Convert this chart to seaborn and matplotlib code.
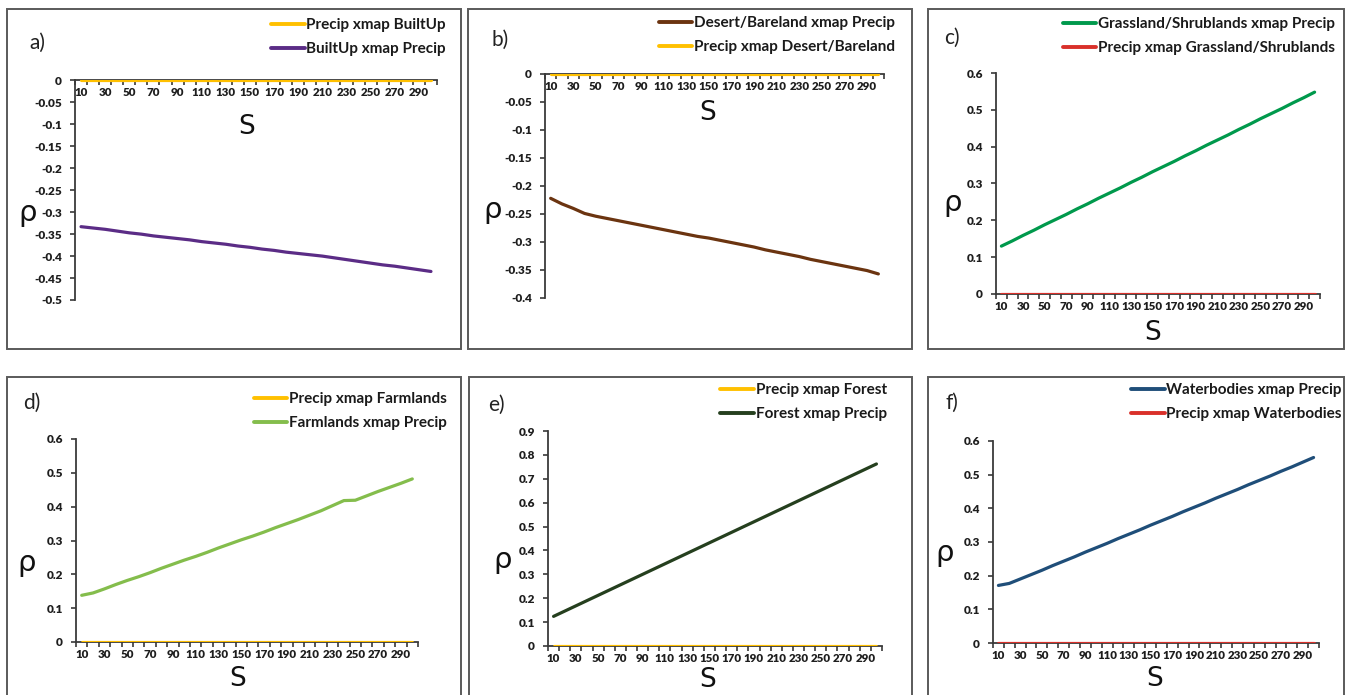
import numpy as np
import pandas as pd
import matplotlib
matplotlib.use("Agg")
import matplotlib.pyplot as plt
import seaborn as sns
from matplotlib.ticker import FixedLocator, FuncFormatter, MultipleLocator
from matplotlib.patches import Rectangle

# ---------------- data ----------------
S = [10, 20, 30, 40, 50, 60, 70, 80, 90, 100, 110, 120, 130, 140, 150,
     160, 170, 180, 190, 200, 210, 220, 230, 240, 250, 260, 270, 280, 290, 300]
s_tick_labels = [10, 30, 50, 70, 90, 110, 130, 150, 170, 190, 210, 230, 250, 270, 290]

builtup_xmap_precip = [-0.333, -0.336, -0.339, -0.343, -0.347, -0.350, -0.354, -0.357, -0.360, -0.363,
                       -0.367, -0.370, -0.373, -0.377, -0.380, -0.384, -0.387, -0.391, -0.394, -0.397,
                       -0.400, -0.404, -0.408, -0.412, -0.416, -0.420, -0.423, -0.427, -0.431, -0.435]
precip_xmap_builtup = [0, 0, 0, 0, 0, 0, 0, 0, 0, 0, 0, 0, 0, 0, 0,
                       0, 0, 0, 0, 0, 0, 0, 0, 0, 0, 0, 0, 0, 0, 0]

desert_xmap_precip = [-0.222, -0.232, -0.240, -0.249, -0.254, -0.258, -0.262, -0.266, -0.270, -0.274,
                      -0.278, -0.282, -0.286, -0.290, -0.293, -0.297, -0.301, -0.305, -0.309, -0.314,
                      -0.318, -0.322, -0.326, -0.331, -0.335, -0.339, -0.343, -0.347, -0.351, -0.357]
precip_xmap_desert = [0, 0, 0, 0, 0, 0, 0, 0, 0, 0, 0, 0, 0, 0, 0,
                      0, 0, 0, 0, 0, 0, 0, 0, 0, 0, 0, 0, 0, 0, 0]

grass_xmap_precip = [0.130, 0.144, 0.159, 0.173, 0.188, 0.202, 0.216, 0.231, 0.245, 0.260,
                     0.274, 0.288, 0.303, 0.317, 0.332, 0.346, 0.360, 0.375, 0.389, 0.404,
                     0.418, 0.432, 0.447, 0.461, 0.476, 0.490, 0.504, 0.519, 0.533, 0.548]
precip_xmap_grass = [0, 0, 0, 0, 0, 0, 0, 0, 0, 0, 0, 0, 0, 0, 0,
                     0, 0, 0, 0, 0, 0, 0, 0, 0, 0, 0, 0, 0, 0, 0]

farm_xmap_precip = [0.138, 0.145, 0.157, 0.170, 0.182, 0.193, 0.205, 0.218, 0.230, 0.242,
                    0.253, 0.265, 0.278, 0.290, 0.302, 0.313, 0.325, 0.338, 0.350, 0.362,
                    0.375, 0.388, 0.403, 0.418, 0.419, 0.432, 0.445, 0.457, 0.469, 0.482]
precip_xmap_farm = [0, 0, 0, 0, 0, 0, 0, 0, 0, 0, 0, 0, 0, 0, 0,
                    0, 0, 0, 0, 0, 0, 0, 0, 0, 0, 0, 0, 0, 0, 0]

forest_xmap_precip = [0.124, 0.146, 0.168, 0.190, 0.212, 0.234, 0.256, 0.278, 0.300, 0.322,
                      0.344, 0.366, 0.388, 0.410, 0.432, 0.454, 0.476, 0.498, 0.520, 0.542,
                      0.564, 0.586, 0.608, 0.630, 0.652, 0.674, 0.696, 0.718, 0.740, 0.762]
precip_xmap_forest = [0, 0, 0, 0, 0, 0, 0, 0, 0, 0, 0, 0, 0, 0, 0,
                      0, 0, 0, 0, 0, 0, 0, 0, 0, 0, 0, 0, 0, 0, 0]

water_xmap_precip = [0.171, 0.177, 0.190, 0.203, 0.216, 0.230, 0.243, 0.256, 0.270, 0.283,
                     0.296, 0.310, 0.323, 0.336, 0.350, 0.363, 0.376, 0.390, 0.403, 0.416,
                     0.430, 0.443, 0.456, 0.470, 0.483, 0.496, 0.510, 0.523, 0.537, 0.551]
precip_xmap_water = [0, 0, 0, 0, 0, 0, 0, 0, 0, 0, 0, 0, 0, 0, 0,
                     0, 0, 0, 0, 0, 0, 0, 0, 0, 0, 0, 0, 0, 0, 0]

# ---------------- style ----------------
sns.set_theme(style="white")
plt.rcParams['font.family'] = ['Lato', 'DejaVu Sans']
plt.rcParams['font.weight'] = 'bold'

W, H = 1347, 695
fig = plt.figure(figsize=(W / 100, H / 100), dpi=100)
fig.patch.set_facecolor("white")

YELLOW = "#FFC000"
RED = "#D9302A"

def rect(x0, x1, ytop, ybot):
    return [x0 / W, 1 - ybot / H, (x1 - x0) / W, (ybot - ytop) / H]

def fx(x):
    return x / W

def fy(y):
    return 1 - y / H

panels = [
    dict(tag="a)", frame=(7, 9, 461, 349), ax=rect(75, 437, 80.5, 300), ylim=(-0.5, 0), ystep=0.05,
         series=[("Precip xmap BuiltUp", precip_xmap_builtup, YELLOW),
                 ("BuiltUp xmap Precip", builtup_xmap_precip, "#5B2C86")],
         tagpos=(37, 43), rho=(28, 213), spos=(247, 127), leg=(446, 26)),
    dict(tag="b)", frame=(468, 9, 912, 349), ax=rect(545, 884, 74, 298), ylim=(-0.4, 0), ystep=0.05,
         series=[("Desert/Bareland xmap Precip", desert_xmap_precip, "#6B3410"),
                 ("Precip xmap Desert/Bareland", precip_xmap_desert, YELLOW)],
         tagpos=(500, 40), rho=(493, 210), spos=(708, 113), leg=(895, 24)),
    dict(tag="c)", frame=(928, 9, 1344, 349), ax=rect(996, 1320, 73, 294), ylim=(0, 0.6), ystep=0.1,
         series=[("Grassland/Shrublands xmap Precip", grass_xmap_precip, "#00994C"),
                 ("Precip xmap Grassland/Shrublands", precip_xmap_grass, RED)],
         tagpos=(952, 38), rho=(953, 203), spos=(1153, 333), leg=(1335, 25)),
    dict(tag="d)", frame=(7, 377, 461, 705), ax=rect(76, 418, 439, 642), ylim=(0, 0.6), ystep=0.1,
         series=[("Precip xmap Farmlands", precip_xmap_farm, YELLOW),
                 ("Farmlands xmap Precip", farm_xmap_precip, "#84BD4C")],
         tagpos=(32, 403), rho=(27, 563), spos=(238, 679), leg=(447, 400)),
    dict(tag="e)", frame=(469, 377, 912, 705), ax=rect(548, 882, 431, 646), ylim=(0, 0.9), ystep=0.1,
         series=[("Precip xmap Forest", precip_xmap_forest, YELLOW),
                 ("Forest xmap Precip", forest_xmap_precip, "#253F1E")],
         tagpos=(496, 405), rho=(503, 560), spos=(708, 680), leg=(887, 391)),
    dict(tag="f)", frame=(928, 377, 1344, 705), ax=rect(993, 1319, 441, 643), ylim=(0, 0.6), ystep=0.1,
         series=[("Waterbodies xmap Precip", water_xmap_precip, "#1F4E79"),
                 ("Precip xmap Waterbodies", precip_xmap_water, RED)],
         tagpos=(952, 403), rho=(945, 553), spos=(1155, 679), leg=(1342, 391)),
]

AXCOL = "#3A3A3A"
axes_list = []

for p in panels:
    x0, y0, x1, y1 = p["frame"]
    fig.add_artist(Rectangle((fx(x0), fy(y1)), fx(x1 - x0), (y1 - y0) / H,
                             transform=fig.transFigure, fill=False,
                             edgecolor="#5A5A5A", linewidth=1.4))

    ax = fig.add_axes(p["ax"])
    axes_list.append(ax)
    ax.set_facecolor("none")
    frames = []
    for name, vals, col in p["series"]:
        frames.append(pd.DataFrame({"S": S, "rho": vals, "series": name}))
    df = pd.concat(frames, ignore_index=True)
    names = [s[0] for s in p["series"]]
    pal = {s[0]: s[2] for s in p["series"]}
    sns.lineplot(data=df, x="S", y="rho", hue="series", hue_order=names,
                 palette=pal, linewidth=2.3, ax=ax, legend=True, zorder=3)

    handles, labels = ax.get_legend_handles_labels()
    if ax.get_legend() is not None:
        ax.get_legend().remove()

    ax.set_xlim(5, 305)
    ax.set_ylim(*p["ylim"])
    ax.set_xlabel("")
    ax.set_ylabel("")

    for side in ("top", "right"):
        ax.spines[side].set_visible(False)
    for side in ("left", "bottom"):
        ax.spines[side].set_color(AXCOL)
        ax.spines[side].set_linewidth(1.3)
    ax.spines["bottom"].set_position(("data", 0))

    ax.xaxis.set_major_locator(FixedLocator(s_tick_labels))
    ax.xaxis.set_major_formatter(FuncFormatter(lambda v, pos: f"{int(round(v))}"))
    ax.xaxis.set_minor_locator(FixedLocator([5 + 10 * k for k in range(31)]))
    ax.tick_params(axis="x", which="major", length=0, labelsize=8.3, pad=5,
                   labelcolor="#1E1E1E")
    ax.tick_params(axis="x", which="minor", length=3.5, width=1.2, color=AXCOL,
                   direction="out", bottom=True)

    ax.yaxis.set_major_locator(MultipleLocator(p["ystep"]))
    ax.yaxis.set_major_formatter(FuncFormatter(lambda v, pos: f"{round(v, 3):g}"))
    ax.tick_params(axis="y", which="major", length=3.5, width=1.2, color=AXCOL,
                   direction="out", left=True, labelsize=8.5, pad=6, labelcolor="#1E1E1E")
    ax.grid(False)

    lx, ly = p["leg"]
    leg = fig.legend(handles, labels, loc="upper right",
                     bbox_to_anchor=(fx(lx), fy(ly - 8)), bbox_transform=fig.transFigure,
                     frameon=False, fontsize=11, handlelength=2.2, handletextpad=0.12,
                     labelspacing=0.68, borderpad=0, borderaxespad=0)
    for t in leg.get_texts():
        t.set_fontweight("bold")
        t.set_color("#1A1A1A")
    for h in leg.legend_handles:
        h.set_linewidth(2.8)

    tx, ty = p["tagpos"]
    fig.text(fx(tx), fy(ty), p["tag"], fontsize=15, fontweight="normal",
             ha="center", va="center", color="#222222")
    rx, ry = p["rho"]
    fig.text(fx(rx), fy(ry), "ρ", fontsize=21, fontweight="normal", ha="center", va="center",
             color="#111111", family=["DejaVu Sans"])
    sx, sy = p["spos"]
    fig.text(fx(sx), fy(sy), "S", fontsize=19, fontweight="normal", ha="center", va="center",
             color="#111111", family=["DejaVu Sans"])

fig.canvas.draw()
for ax in axes_list:
    for lab in ax.get_xticklabels() + ax.get_yticklabels():
        lab.set_fontweight("heavy")

fig.savefig("out.png", dpi=100, facecolor="white")
